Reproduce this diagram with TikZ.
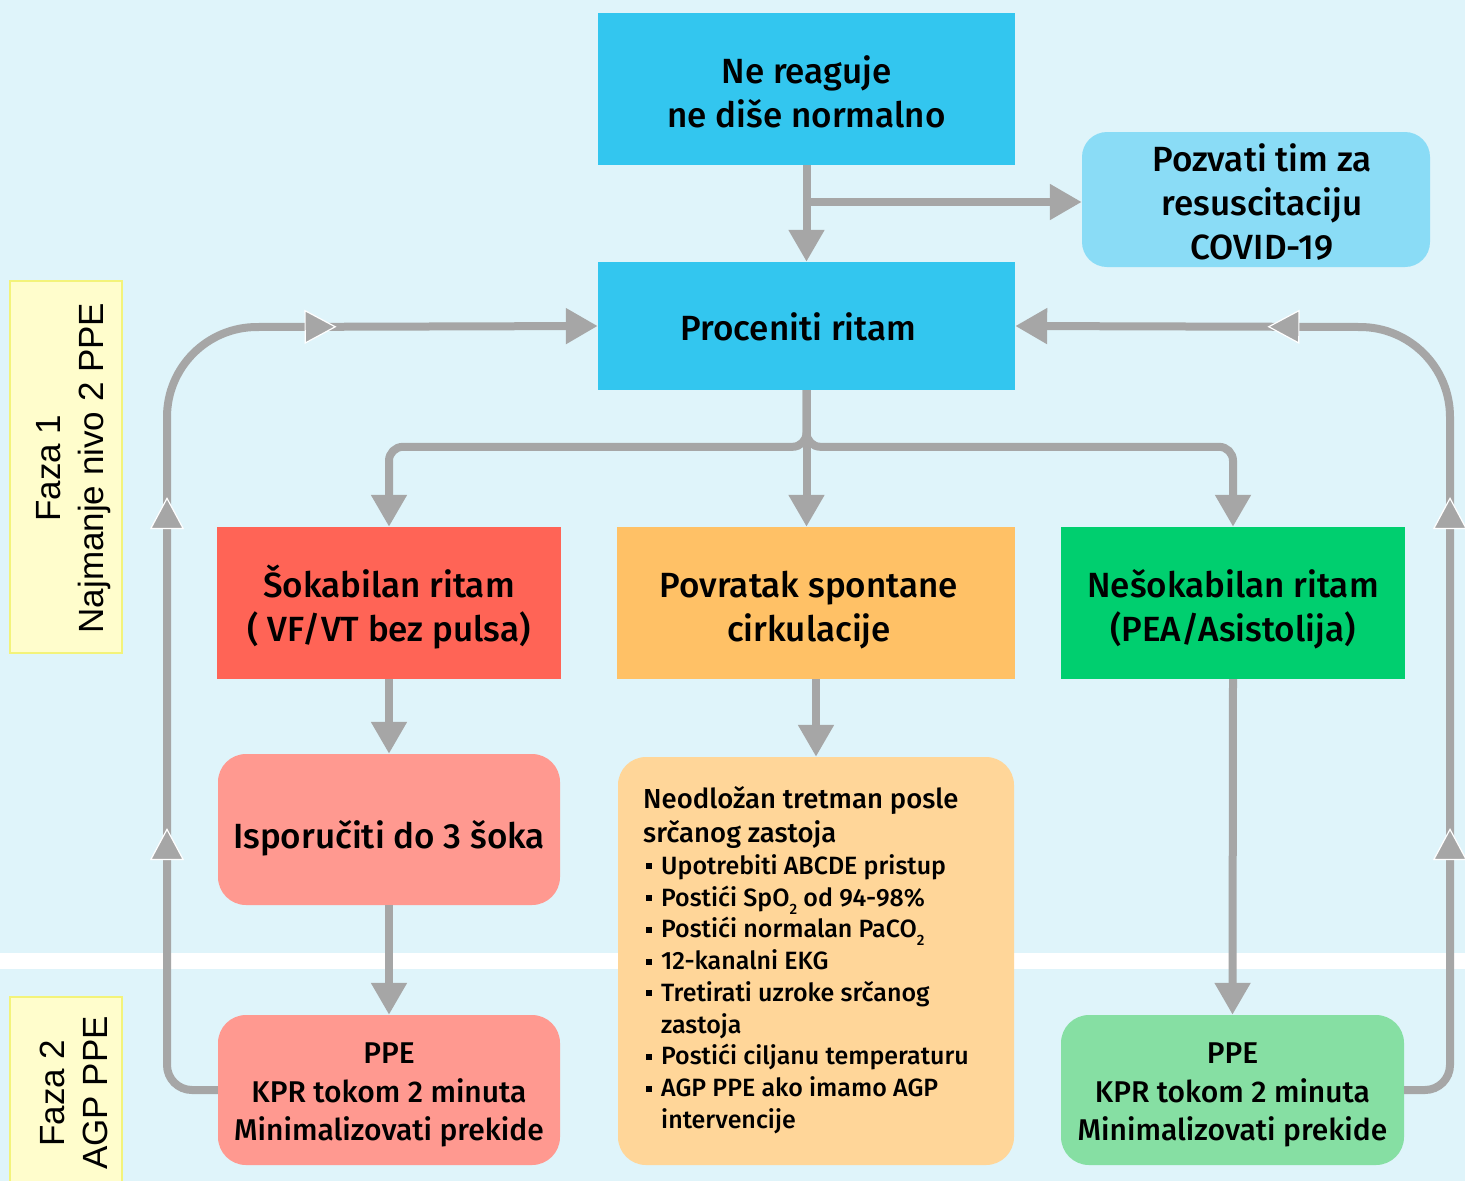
\documentclass[tikz,border=0pt]{standalone}
\usepackage{fontspec}
\setmainfont{Fira Sans}[UprightFont=* Medium]
\newfontfamily\sidefont{Liberation Sans}
\usetikzlibrary{arrows.meta,decorations.markings,calc}
\definecolor{bg}{HTML}{DFF4FA}
\definecolor{arrowgray}{HTML}{A6A6A6}
\definecolor{cblue}{HTML}{33C6EF}
\definecolor{lblue}{HTML}{8ADCF6}
\definecolor{cred}{HTML}{FF6456}
\definecolor{corange}{HTML}{FFC166}
\definecolor{cgreen}{HTML}{00CF6F}
\definecolor{salmon}{HTML}{FF9990}
\definecolor{lorange}{HTML}{FFD699}
\definecolor{lgreen}{HTML}{86DFA3}
\definecolor{yfill}{HTML}{FFFDCC}
\definecolor{yline}{HTML}{F3F37A}
% top strut (height only) and bottom strut (depth only) fix the vertical placement of box texts
\newcommand{\tb}[1]{\rule{0pt}{#1}}
\newcommand{\bb}[1]{\rule[-#1]{0pt}{#1}}
\newcommand{\blt}{\makebox[18pt][l]{\hspace*{3pt}\rule[5pt]{6pt}{6pt}}}
\newcommand{\sbtwo}{\raisebox{-8pt}{\fontsize{15}{15}\selectfont 2}}
\newcommand{\hdfont}{\fontsize{27.5}{31.75}\selectfont}
\begin{document}
\begin{tikzpicture}[x=1pt,y=1pt,
  conn/.style={draw=arrowgray,line width=8pt,-{Triangle[length=32pt,width=34pt]}},
  loopline/.style={draw=arrowgray,line width=8pt,-{Triangle[length=32pt,width=34pt]}},
  midtip/.style={decoration={markings,mark=at position #1 with {\arrow{Triangle[length=32pt,width=34pt,color=white,fill=arrowgray,line width=1.2pt]}}}},
  bigbox/.style={rectangle,inner sep=0pt,align=center,font=\fontsize{35}{44}\selectfont},
  ppebox/.style={rectangle,rounded corners=28pt,inner sep=0pt,align=center,font=\fontsize{30}{38.5}\selectfont},
  ybox/.style={rectangle,draw=yline,fill=yfill,line width=1.5pt,inner sep=0pt},
  sidelab/.style={rotate=90,align=center,inner sep=0pt,font=\sidefont\fontsize{35}{43}\selectfont}
]
\fill[bg] (0,0) rectangle (1465,-1181);
\useasboundingbox (0,0) rectangle (1465,-1181);
\fill[white] (0,-953) rectangle (1465,-969);

% phase labels
\node[ybox,minimum width=112,minimum height=372] (f1box) at (66,-467) {};
\node[sidelab] (f1lab) at (74,-468) {Faza 1\\Najmanje nivo 2 PPE};
\node[ybox,minimum width=112,minimum height=200] (f2box) at (66,-1097) {};
\node[sidelab] (f2lab) at (74,-1093) {Faza 2\\AGP PPE};

% boxes
\node[bigbox,fill=cblue,minimum width=417,minimum height=152] (ne) at (806.5,-89) {\tb{42.7pt}Ne reaguje\\ne diše normalno\bb{10.5pt}};
\node[bigbox,fill=lblue,rounded corners=25pt,minimum width=348,minimum height=135] (poz) at (1256,-199.5) {\tb{39.6pt}\hspace*{12pt}Pozvati tim za\\\hspace*{12pt}resuscitaciju\\\hspace*{12pt}COVID-19\bb{7.4pt}};
\node[bigbox,fill=cblue,minimum width=417,minimum height=128] (proc) at (806.5,-326) {\tb{38.7pt}Proceniti ritam\kern16pt\bb{10.5pt}};
\node[bigbox,fill=cred,minimum width=344,minimum height=152] (sok) at (389,-603) {\tb{42.7pt}Šokabilan ritam\\( VF/VT bez pulsa)\bb{10.5pt}};
\node[bigbox,fill=corange,minimum width=398,minimum height=152] (pov) at (816,-603) {\tb{42.7pt}Povratak spontane\kern14pt\\cirkulacije\kern14pt\bb{10.5pt}};
\node[bigbox,fill=cgreen,minimum width=344,minimum height=152] (nes) at (1233,-603) {\tb{42.7pt}Nešokabilan ritam\\(PEA/Asistolija)\bb{10.5pt}};
\node[bigbox,fill=salmon,rounded corners=28pt,minimum width=342,minimum height=151] (isp) at (389,-829.5) {\tb{48.7pt}Isporučiti do 3 šoka\bb{10.5pt}};
\node[ppebox,fill=salmon,minimum width=342,minimum height=150] (ppeL) at (389,-1090) {\tb{33.7pt}PPE\\KPR tokom 2 minuta\\Minimalizovati prekide\bb{9pt}};
\node[ppebox,fill=lgreen,minimum width=343,minimum height=150] (ppeR) at (1232.5,-1090) {\tb{33.7pt}PPE\\KPR tokom 2 minuta\\Minimalizovati prekide\bb{9pt}};
\node[ppebox,fill=lorange,minimum width=396,minimum height=408] (neo) at (816,-961) {};
\node[anchor=north west,align=left,inner sep=0pt,font=\fontsize{25}{31.75}\selectfont] (neotext) at (643,-786)
{\rule{0pt}{20pt}{\hdfont Neodložan tretman posle}\\[2.25pt]
{\hdfont srčanog zastoja}\\[0.5pt]
\blt Upotrebiti ABCDE pristup\\
\blt Postići SpO\sbtwo{} od 94-98\%\\
\blt Postići normalan PaCO\sbtwo\\
\blt 12-kanalni EKG\\
\blt Tretirati uzroke srčanog\\
\hspace*{18pt}zastoja\\
\blt Postići ciljanu temperaturu\\
\blt AGP PPE ako imamo AGP\\
\hspace*{18pt}intervencije};

% connectors
\draw[conn] (ne.south) -- (proc.north);
\draw[conn] (ne.south |- 0,-202) -- (poz.west |- 0,-202);
\draw[conn,rounded corners=14pt] (proc.south) |- ([yshift=80pt]sok.north) -- (sok.north);
\draw[conn,rounded corners=14pt] (proc.south) |- ([yshift=80pt]nes.north) -- (nes.north);
\draw[conn] (proc.south) -- (proc.south |- pov.north);
\draw[conn] (sok.south) -- (isp.north);
\draw[conn] (isp.south) -- (ppeL.north);
\draw[conn] (pov.south) -- (neo.north);
\draw[conn] (nes.south) -- (ppeR.north);

% feedback loops
\draw[loopline,postaction={decorate,midtip=302pt},postaction={decorate,midtip=633pt},postaction={decorate,midtip=934pt}]
  (ppeL.west) -- (192,-1090) arc[start angle=270,end angle=180,radius=25pt]
  -- (167,-417) arc[start angle=180,end angle=90,radius=90pt] -- (proc.west);
\draw[loopline,postaction={decorate,midtip=297pt},postaction={decorate,midtip=628pt},postaction={decorate,midtip=942pt}]
  (ppeR.east) -- (1425,-1090) arc[start angle=270,end angle=360,radius=25pt]
  -- (1450,-417) arc[start angle=0,end angle=90,radius=90pt] -- (proc.east);
\end{tikzpicture}
\end{document}
